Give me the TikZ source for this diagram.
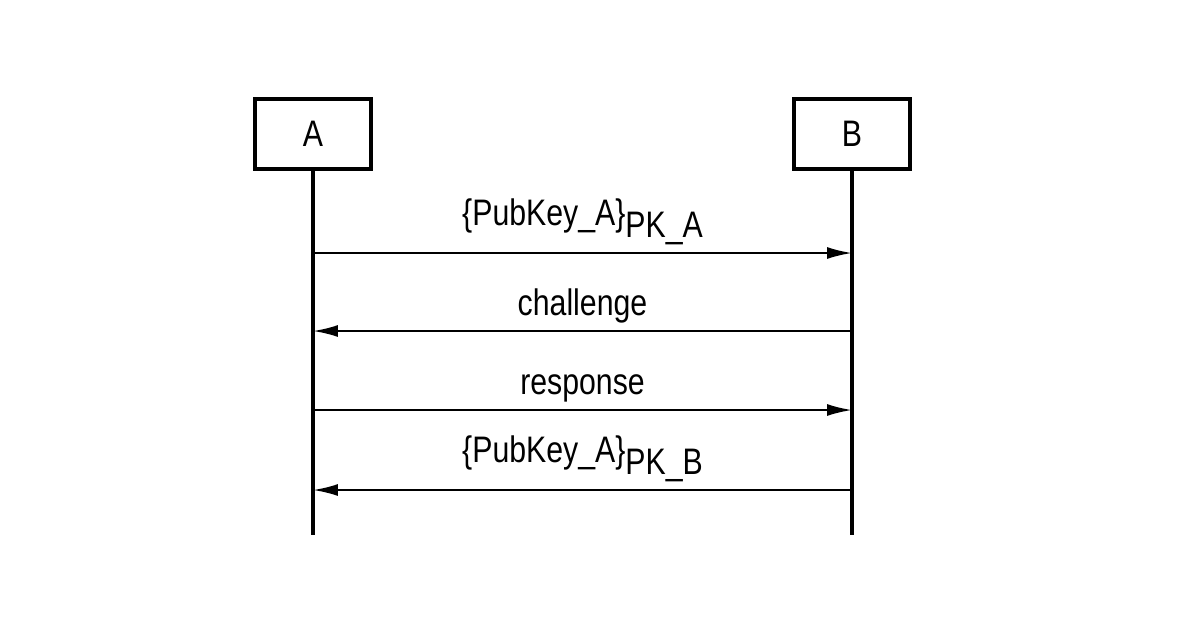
\documentclass[tikz,border=0pt]{standalone}
\usepackage{fontspec}
\setmainfont[FakeStretch=0.82]{Liberation Sans}
\usetikzlibrary{arrows.meta,positioning}
\tikzset{
  party/.style={draw,line width=2.3pt,minimum width=2.32cm,minimum height=1.4cm,inner sep=0pt,font=\fontsize{21}{25}\selectfont},
  life/.style={line width=2.3pt},
  msg/.style={line width=1.2pt,-{Latex[length=5mm,width=2.4mm]}},
  lbl/.style={font=\fontsize{21}{25}\selectfont,above=3pt,inner sep=1pt}
}
\begin{document}
\begin{tikzpicture}[x=0.02cm,y=-0.02cm]
\useasboundingbox (0,0) rectangle (1200,630);
\node[party] (A) at (313,134) {A};
\node[party] (B) at (852,134) {B};
\coordinate (Aend) at (313,535);
\coordinate (Bend) at (852,535);
\draw[life] (A.south)--(Aend) (B.south)--(Bend);
% messages
\coordinate (a1) at (313,253); \coordinate (b1) at (852,253);
\coordinate (a2) at (313,331); \coordinate (b2) at (852,331);
\coordinate (a3) at (313,410); \coordinate (b3) at (852,410);
\coordinate (a4) at (313,490); \coordinate (b4) at (852,490);
\draw[msg] (a1)--(b1) node[midway,lbl]{\{PubKey\_A\}\raisebox{-7pt}{PK\_A}};
\draw[msg] (b2)--(a2) node[midway,lbl]{challenge};
\draw[msg] (a3)--(b3) node[midway,lbl]{response};
\draw[msg] (b4)--(a4) node[midway,lbl]{\{PubKey\_A\}\raisebox{-7pt}{PK\_B}};
\end{tikzpicture}
\end{document}
